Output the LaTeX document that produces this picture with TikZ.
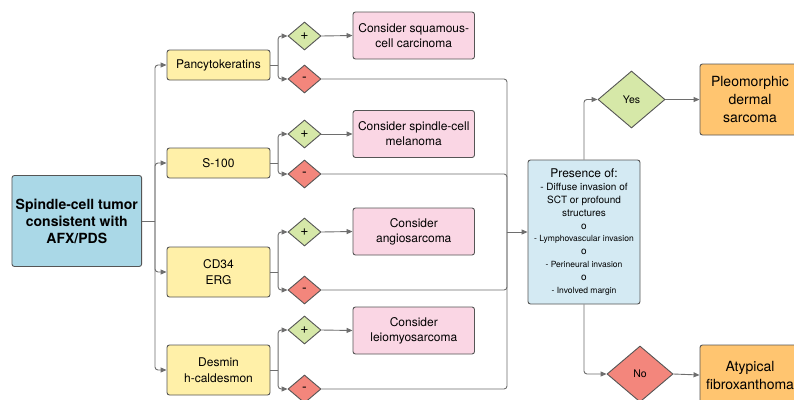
\documentclass[tikz,border=0pt]{standalone}
\usepackage{fontspec}
\setmainfont{TeX Gyre Heros}
\usetikzlibrary{shapes.geometric,arrows.meta}
\definecolor{lnc}{RGB}{110,110,110}
\definecolor{bdc}{RGB}{85,85,85}
\definecolor{mainblue}{RGB}{170,216,231}
\definecolor{lightblue}{RGB}{212,234,243}
\definecolor{yel}{RGB}{255,240,168}
\definecolor{pnk}{RGB}{250,214,228}
\definecolor{grn}{RGB}{214,232,168}
\definecolor{rd}{RGB}{243,134,124}
\definecolor{org}{RGB}{255,197,112}
\begin{document}
\begin{tikzpicture}[x=1pt,y=-1pt,
  box/.style={draw=bdc, line width=0.9pt, rounded corners=2.5pt, inner sep=0pt, align=center},
  mainbox/.style={box, fill=mainblue, minimum width=129.7pt, minimum height=91pt, font=\fontsize{14}{17}\selectfont\bfseries},
  testbox/.style={box, fill=yel, minimum width=103pt, font=\fontsize{12}{15.5}\selectfont},
  pinkbox/.style={box, fill=pnk, minimum width=121.5pt, minimum height=47pt, font=\fontsize{12}{15}\selectfont},
  presbox/.style={box, fill=lightblue, minimum width=112pt, minimum height=144pt, font=\fontsize{8.5}{12.9}\selectfont},
  resbox/.style={box, fill=org, minimum width=100pt, font=\fontsize{14}{18}\selectfont},
  sdia/.style={diamond, draw=bdc, line width=0.9pt, inner sep=0pt, aspect=1.18, minimum width=33pt, minimum height=28pt, font=\fontsize{14}{14}\selectfont},
  bdia/.style={diamond, draw=bdc, line width=0.9pt, inner sep=0pt, aspect=1.18, minimum width=67pt, minimum height=57pt, font=\fontsize{10.5}{12}\selectfont},
  ln/.style={draw=lnc, line width=0.9pt, rounded corners=3pt},
  arr/.style={ln, -{Triangle[length=6pt,width=5pt]}}
]
\useasboundingbox (0,0) rectangle (794,399);
\clip (0,0) rectangle (794,399);
\fill[white] (0,0) rectangle (794,399);

% main box
\node[mainbox] (main) at (76.8,221) {Spindle-cell tumor\\consistent with\\AFX/PDS};

% test boxes
\node[testbox, minimum height=30pt] (t1) at (218.5,65) {Pancytokeratins};
\node[testbox, minimum height=30pt] (t2) at (218.5,163) {S-100};
\node[testbox, minimum height=50pt] (t3) at (218.5,272) {CD34\\ERG};
\node[testbox, minimum height=50pt] (t4) at (218.5,370) {Desmin\\h-caldesmon};

% diamonds
\node[sdia, fill=grn] (p1) at (304.5,36) {+};
\node[sdia, fill=rd]  (m1) at (304.5,79) {-};
\node[sdia, fill=grn] (p2) at (304.5,134) {+};
\node[sdia, fill=rd]  (m2) at (304.5,174) {-};
\node[sdia, fill=grn] (p3) at (304.5,232) {+};
\node[sdia, fill=rd]  (m3) at (304.5,290) {-};
\node[sdia, fill=grn] (p4) at (304.5,330) {+};
\node[sdia, fill=rd]  (m4) at (304.5,389) {-};

% pink boxes
\node[pinkbox] (c1) at (413.75,35.5) {Consider squamous-\\cell carcinoma};
\node[pinkbox] (c2) at (413.75,134) {Consider spindle-cell\\melanoma};
\node[pinkbox] (c3) at (413.75,231.5) {Consider\\angiosarcoma};
\node[pinkbox] (c4) at (413.75,330.5) {Consider\\leiomyosarcoma};

% presence box
\node[presbox] (pres) at (584,232) {{\fontsize{12}{13}\selectfont Presence of:}\\
{\fontsize{10}{13}\selectfont - Diffuse invasion of}\\
{\fontsize{10}{13}\selectfont SCT or profound}\\
{\fontsize{10}{13}\selectfont structures}\\
{\fontsize{10}{13}\selectfont o}\\
- Lymphovascular invasion\\
{\fontsize{10}{13}\selectfont o}\\
- Perineural invasion\\
{\fontsize{10}{13}\selectfont o}\\
- Involved margin};

% outcome diamonds
\node[bdia, fill=grn] (yes) at (631.5,99.5) {Yes};
\node[bdia, fill=rd, minimum width=66pt, minimum height=56pt] (no) at (640,374) {No};

% results
\node[resbox, minimum height=71pt] (pds) at (750,99.5) {Pleomorphic\\dermal\\sarcoma};
\node[resbox, minimum height=60pt] (afx) at (750,375) {Atypical\\fibroxanthoma};

% trunk
\coordinate (trunk) at (155,221);
\draw[ln] (main.east) -- (trunk);
\foreach \t in {t1,t2,t3,t4} \draw[arr] (trunk) |- (\t.west);

% brackets
\foreach \t/\p/\m in {t1/p1/m1,t2/p2/m2,t3/p3/m3,t4/p4/m4}{
  \draw[ln] (\t.east) -- ++(7.7,0) coordinate (b\t);
  \draw[arr] (b\t) |- (\p.west);
  \draw[arr] (b\t) |- (\m.west);
}
\draw[arr] (p1.east) -- (c1.west);
\draw[arr] (p2.east) -- (c2.west);
\draw[arr] (p3.east) -- (c3.west);
\draw[arr] (p4.east) -- (c4.west);

% collector
\coordinate (col) at (507,232);
\foreach \m in {m1,m2,m3,m4} \draw[ln] (\m.east) -| (col);
\draw[arr] (col) -- (pres.west);

% outcomes
\draw[arr] (pres.north) |- (yes.west);
\draw[arr] (yes.east) -- (pds.west);
\draw[arr] (pres.south) |- (no.west);
\draw[arr] (no.east) -- (afx.west);
\end{tikzpicture}
\end{document}
